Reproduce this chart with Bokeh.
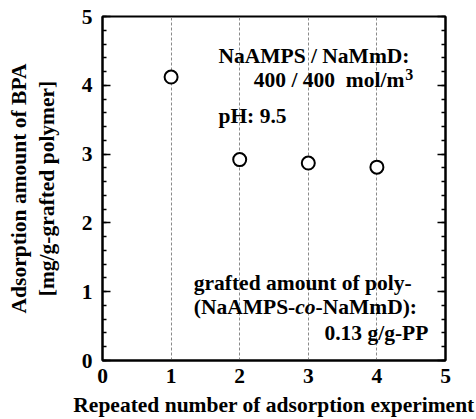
from bokeh.plotting import figure
from bokeh.models import LinearAxis, SingleIntervalTicker, FixedTicker, Label, Range1d
from bokeh.embed import file_html
from bokeh.resources import INLINE

# Repeated adsorption runs and the BPA adsorbed in each
runs = [1, 2, 3, 4]
adsorbed = [4.12, 2.92, 2.87, 2.81]

x_label = "Repeated number of adsorption experiment"
y_label_outer = "Adsorption amount of BPA"
y_label_inner = "[mg/g-grafted polymer]"

FONT = "Liberation Serif"
FS = "21.5px"

p = figure(width=476, height=419, x_range=Range1d(0, 5), y_range=Range1d(0, 5),
           output_backend="svg", toolbar_location=None,
           min_border_left=102, min_border_right=31, min_border_top=16, min_border_bottom=59,
           background_fill_color="white", border_fill_color="white")

p.outline_line_color = "black"
p.outline_line_width = 2

# vertical dashed guides at each run
p.xgrid.ticker = FixedTicker(ticks=runs)
p.xgrid.grid_line_color = "#8a8a8a"
p.xgrid.grid_line_dash = "3 2"
p.xgrid.grid_line_width = 1
p.ygrid.grid_line_color = None

# bottom axis: labels only, no ticks
xa = p.xaxis[0]
xa.ticker = SingleIntervalTicker(interval=1)
xa.major_tick_in = 0
xa.major_tick_out = 0
xa.minor_tick_in = 0
xa.minor_tick_out = 0
xa.axis_line_width = 2
xa.major_label_standoff = 8
xa.axis_label = x_label
xa.axis_label_standoff = 7

# left axis: inward ticks with minors
ya = p.yaxis[0]
ya.ticker = SingleIntervalTicker(interval=1, num_minor_ticks=5)
ya.major_tick_in = 8
ya.major_tick_out = 0
ya.minor_tick_in = 4
ya.minor_tick_out = 0
ya.major_tick_line_width = 1.5
ya.minor_tick_line_width = 1.5
ya.axis_line_width = 2
ya.major_label_standoff = 10
ya.axis_label = y_label_inner
ya.axis_label_standoff = 20

for ax in (xa, ya):
    ax.major_label_text_font = FONT
    ax.major_label_text_font_style = "bold"
    ax.major_label_text_font_size = FS
    ax.major_label_text_color = "black"
    ax.axis_label_text_font = FONT
    ax.axis_label_text_font_style = "bold"
    ax.axis_label_text_font_size = FS
    ax.axis_label_text_color = "black"

# outer line of the y title
outer = LinearAxis(ticker=FixedTicker(ticks=[]), axis_label=y_label_outer,
                   axis_line_color=None, major_tick_in=0, major_tick_out=0,
                   minor_tick_in=0, minor_tick_out=0, major_label_standoff=0,
                   axis_label_standoff=1,
                   axis_label_text_font=FONT, axis_label_text_font_style="bold",
                   axis_label_text_font_size=FS, axis_label_text_color="black")
p.add_layout(outer, "left")

# right axis mirrors the left ticks, without labels
right = LinearAxis(ticker=SingleIntervalTicker(interval=1, num_minor_ticks=5),
                   major_label_overrides={i: "" for i in range(6)},
                   major_label_standoff=0,
                   major_tick_in=8, major_tick_out=0, minor_tick_in=4, minor_tick_out=0,
                   major_tick_line_width=1.5, minor_tick_line_width=1.5,
                   axis_line_width=2)
p.add_layout(right, "right")

p.scatter(runs, adsorbed, marker="circle", size=13, fill_color="white",
          line_color="black", line_width=2)

def note(text, x, y, align="left", style="bold", xoff=0, size=FS):
    p.add_layout(Label(x=x, y=y, text=text, text_align=align, text_baseline="middle",
                       x_offset=xoff, text_font=FONT, text_font_style=style,
                       text_font_size=size, text_color="black"))

note("NaAMPS / NaMmD:", 1.69, 4.43)
note("400 / 400\u00a0\u00a0mol/m", 4.40, 4.08, align="right")
note("3", 4.415, 4.15, size="16px")
note("pH: 9.5", 1.69, 3.55)
note("grafted amount of poly-", 1.33, 1.13)
note("(NaAMPS-", 1.33, 0.78)
note("co", 1.33, 0.78, style="bold italic", xoff=101.5)
note("-NaMmD):", 1.33, 0.78, xoff=121.8)
note("0.13 g/g-PP", 4.75, 0.40, align="right")

open("out.html", "w").write(file_html(p, INLINE))
